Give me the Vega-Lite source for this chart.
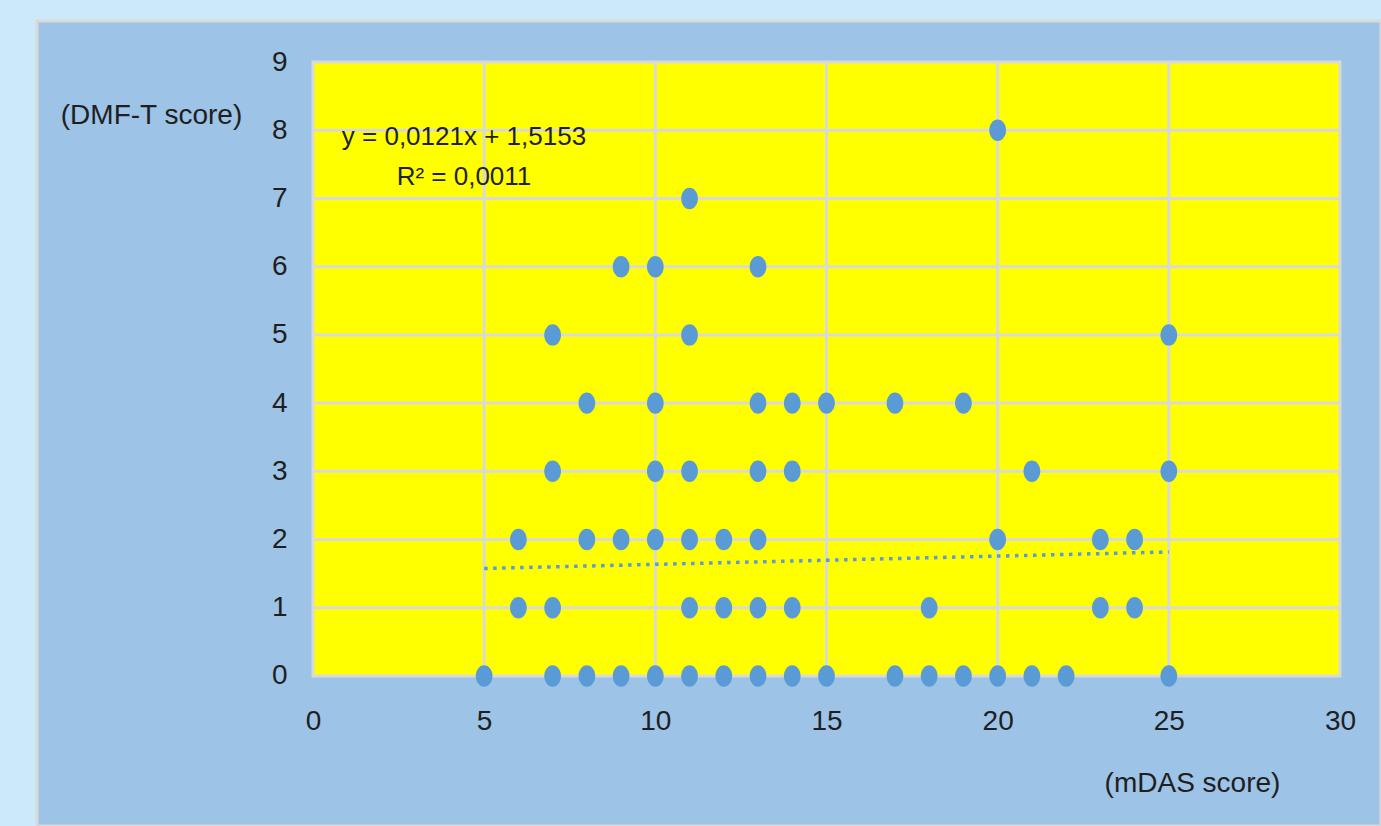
{
  "$schema": "https://vega.github.io/schema/vega-lite/v6.json",
  "width": 1344,
  "height": 805,
  "autosize": {"type": "none"},
  "padding": {"left": 37, "top": 21, "right": 0, "bottom": 0},
  "background": "#cce9fb",
  "config": {
    "view": {"fill": "#9dc3e6", "stroke": "#d9d9d9", "strokeWidth": 3},
    "font": "Liberation Sans Narrow, Arial Narrow, Liberation Sans, sans-serif"
  },
  "datasets": {
    "points": [
      {"mdas": 5, "dmft": 0}, {"mdas": 7, "dmft": 0}, {"mdas": 8, "dmft": 0}, {"mdas": 9, "dmft": 0},
      {"mdas": 10, "dmft": 0}, {"mdas": 11, "dmft": 0}, {"mdas": 12, "dmft": 0}, {"mdas": 13, "dmft": 0},
      {"mdas": 14, "dmft": 0}, {"mdas": 15, "dmft": 0}, {"mdas": 17, "dmft": 0}, {"mdas": 18, "dmft": 0},
      {"mdas": 19, "dmft": 0}, {"mdas": 20, "dmft": 0}, {"mdas": 21, "dmft": 0}, {"mdas": 22, "dmft": 0},
      {"mdas": 25, "dmft": 0},
      {"mdas": 6, "dmft": 1}, {"mdas": 7, "dmft": 1}, {"mdas": 11, "dmft": 1}, {"mdas": 12, "dmft": 1},
      {"mdas": 13, "dmft": 1}, {"mdas": 14, "dmft": 1}, {"mdas": 18, "dmft": 1}, {"mdas": 23, "dmft": 1},
      {"mdas": 24, "dmft": 1},
      {"mdas": 6, "dmft": 2}, {"mdas": 8, "dmft": 2}, {"mdas": 9, "dmft": 2}, {"mdas": 10, "dmft": 2},
      {"mdas": 11, "dmft": 2}, {"mdas": 12, "dmft": 2}, {"mdas": 13, "dmft": 2}, {"mdas": 20, "dmft": 2},
      {"mdas": 23, "dmft": 2}, {"mdas": 24, "dmft": 2},
      {"mdas": 7, "dmft": 3}, {"mdas": 10, "dmft": 3}, {"mdas": 11, "dmft": 3}, {"mdas": 13, "dmft": 3},
      {"mdas": 14, "dmft": 3}, {"mdas": 21, "dmft": 3}, {"mdas": 25, "dmft": 3},
      {"mdas": 8, "dmft": 4}, {"mdas": 10, "dmft": 4}, {"mdas": 13, "dmft": 4}, {"mdas": 14, "dmft": 4},
      {"mdas": 15, "dmft": 4}, {"mdas": 17, "dmft": 4}, {"mdas": 19, "dmft": 4},
      {"mdas": 7, "dmft": 5}, {"mdas": 11, "dmft": 5}, {"mdas": 25, "dmft": 5},
      {"mdas": 9, "dmft": 6}, {"mdas": 10, "dmft": 6}, {"mdas": 13, "dmft": 6},
      {"mdas": 11, "dmft": 7},
      {"mdas": 20, "dmft": 8}
    ],
    "trend": [
      {"mdas": 5, "dmft": 1.5758},
      {"mdas": 25, "dmft": 1.8178}
    ],
    "xgrid": [{"v": 5}, {"v": 10}, {"v": 15}, {"v": 20}, {"v": 25}],
    "ygrid": [{"v": 1}, {"v": 2}, {"v": 3}, {"v": 4}, {"v": 5}, {"v": 6}, {"v": 7}, {"v": 8}]
  },
  "layer": [
    {
      "data": {"name": "points"},
      "mark": {"type": "point", "opacity": 0},
      "encoding": {
        "x": {
          "field": "mdas",
          "type": "quantitative",
          "scale": {"domain": [-8.062, 31.198], "nice": false, "zero": false},
          "axis": {
            "title": "(mDAS score)",
            "format": "d",
            "offset": -150,
            "values": [0, 5, 10, 15, 20, 25, 30],
            "grid": false,
            "domain": false,
            "ticks": false,
            "tickSize": 0,
            "labelPadding": 31,
            "labelFontSize": 28,
            "labelColor": "#1f1f1f",
            "titleFontSize": 28,
            "titleFontWeight": "normal",
            "titleColor": "#1f1f1f",
            "titleAngle": 0,
            "titleAlign": "center",
            "titleBaseline": "middle",
            "titleX": 1155,
            "titleY": 107
          }
        },
        "y": {
          "field": "dmft",
          "type": "quantitative",
          "scale": {"domain": [-2.199, 9.601], "nice": false, "zero": false},
          "axis": {
            "title": "(DMF-T score)",
            "format": "d",
            "offset": -276,
            "values": [0, 1, 2, 3, 4, 5, 6, 7, 8, 9],
            "grid": false,
            "domain": false,
            "ticks": false,
            "tickSize": 0,
            "labelPadding": 26,
            "labelFontSize": 28,
            "labelColor": "#1f1f1f",
            "titleFontSize": 28,
            "titleFontWeight": "normal",
            "titleColor": "#1f1f1f",
            "titleAngle": 0,
            "titleAlign": "center",
            "titleBaseline": "middle",
            "titleX": -162,
            "titleY": 94
          }
        }
      }
    },
    {
      "data": {"values": [{}]},
      "mark": {"type": "rect", "fill": "#ffff00", "stroke": "#d9d9d9", "strokeWidth": 3},
      "encoding": {
        "x": {"datum": 0, "type": "quantitative"},
        "x2": {"datum": 30},
        "y": {"datum": 0, "type": "quantitative"},
        "y2": {"datum": 9}
      }
    },
    {
      "data": {"name": "xgrid"},
      "mark": {"type": "rule", "color": "#d9d9d9", "strokeWidth": 3},
      "encoding": {
        "x": {"field": "v", "type": "quantitative"},
        "y": {"datum": 0, "type": "quantitative"},
        "y2": {"datum": 9}
      }
    },
    {
      "data": {"name": "ygrid"},
      "mark": {"type": "rule", "color": "#d9d9d9", "strokeWidth": 3},
      "encoding": {
        "y": {"field": "v", "type": "quantitative"},
        "x": {"datum": 0, "type": "quantitative"},
        "x2": {"datum": 30}
      }
    },
    {
      "data": {"name": "trend"},
      "mark": {"type": "line", "color": "#5b9bd5", "strokeWidth": 3.5, "strokeDash": [3.5, 5.5]},
      "encoding": {
        "x": {"field": "mdas", "type": "quantitative"},
        "y": {"field": "dmft", "type": "quantitative"}
      }
    },
    {
      "data": {"name": "points"},
      "mark": {
        "type": "point",
        "filled": true,
        "opacity": 1,
        "color": "#5b9bd5",
        "size": 460,
        "shape": "M -0.78 0 A 0.78 1 0 1 0 0.78 0 A 0.78 1 0 1 0 -0.78 0 Z"
      },
      "encoding": {
        "x": {"field": "mdas", "type": "quantitative"},
        "y": {"field": "dmft", "type": "quantitative"}
      }
    },
    {
      "data": {"values": [{}]},
      "mark": {
        "type": "text",
        "align": "center",
        "baseline": "middle",
        "fontSize": 26,
        "lineHeight": 40,
        "color": "#1f1f1f",
        "text": ["y = 0,0121x + 1,5153", "R² = 0,0011"]
      },
      "encoding": {
        "x": {"datum": 4.41, "type": "quantitative"},
        "y": {"datum": 7.9, "type": "quantitative"}
      }
    }
  ]
}
